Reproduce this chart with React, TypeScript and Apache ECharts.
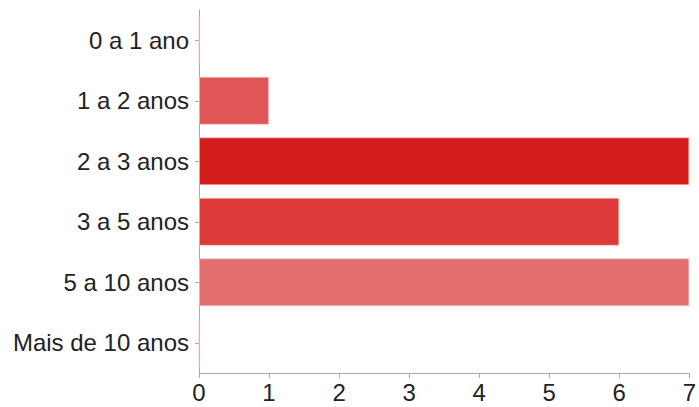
import React, { useEffect, useRef } from "react";
import * as echarts from "echarts";

const categories = ["0 a 1 ano", "1 a 2 anos", "2 a 3 anos", "3 a 5 anos", "5 a 10 anos", "Mais de 10 anos"];
const values = [0, 1, 7, 6, 7, 0];
const barColors = ["#e05555", "#e05555", "#d41c1c", "#dc3939", "#e36e6e", "#e36e6e"];
const xTicks = [0, 1, 2, 3, 4, 5, 6, 7];

export default function App() {
  const ref = useRef<HTMLDivElement>(null);
  useEffect(() => {
    if (!ref.current) return;
    const chart = echarts.init(ref.current, null, { renderer: "svg" });
    const font = "Liberation Sans, Arial, Helvetica, sans-serif";
    chart.setOption({
      animation: false,
      grid: { left: 199, right: 7, top: 10, bottom: 34, containLabel: false },
      xAxis: {
        type: "value",
        min: xTicks[0],
        max: xTicks[xTicks.length - 1],
        interval: 1,
        splitLine: { show: false },
        axisLine: { show: true, lineStyle: { color: "#aaaaaa", width: 1 } },
        axisTick: { show: true, length: 5, lineStyle: { color: "#aaaaaa" } },
        axisLabel: { color: "#222222", fontSize: 24, fontFamily: font, margin: 7 },
      },
      yAxis: {
        type: "category",
        data: categories,
        inverse: true,
        axisLine: { show: true, lineStyle: { color: "#aaaaaa", width: 1 } },
        axisTick: { show: true, length: 4, alignWithLabel: true, lineStyle: { color: "#aaaaaa" } },
        axisLabel: { color: "#222222", fontSize: 24, fontFamily: font, margin: 10, padding: [5, 0, 0, 0] },
      },
      series: [
        {
          type: "bar",
          data: values.map((v, i) => ({
            value: v,
            itemStyle: { color: barColors[i], borderColor: "rgba(255,200,200,0.6)", borderWidth: 1 },
          })),
          barWidth: 48,
        },
      ],
    });
    return () => chart.dispose();
  }, []);
  return <div ref={ref} style={{ width: 699, height: 407, position: "absolute", left: 0, top: 0, background: "#fff" }} />;
}
